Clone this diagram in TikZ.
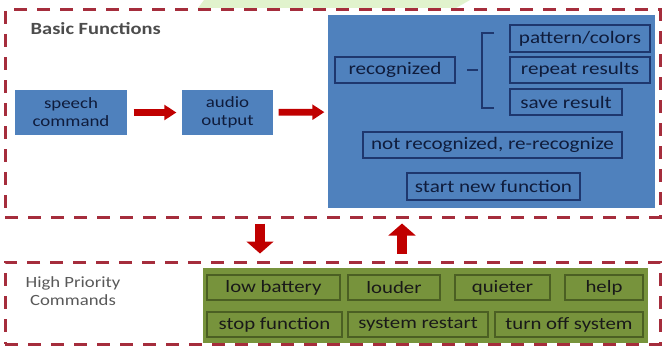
\documentclass[tikz,border=0pt]{standalone}
\usepackage{fontspec}
\setmainfont{Carlito}[FakeStretch=1.2]
\usepackage{xcolor}
\usetikzlibrary{arrows.meta}
\tikzset{>=latex}
\definecolor{framered}{RGB}{165,45,60}
\definecolor{arrowred}{RGB}{192,0,0}
\definecolor{boxblue}{RGB}{79,129,189}
\definecolor{lineblue}{RGB}{30,55,110}
\definecolor{textblue}{RGB}{15,28,60}
\definecolor{boxgreen}{RGB}{119,147,60}
\definecolor{linegreen}{RGB}{75,95,35}
\definecolor{paleleaf}{RGB}{225,243,205}
\tikzset{
  frame/.style={draw=framered, line width=2.25pt, dash pattern=on 9.75pt off 7.5pt, inner sep=0pt},
  bluebox/.style={fill=boxblue, draw=lineblue, line width=0.9pt, text=textblue, inner sep=0pt, font=\fontsize{13.2}{14}\selectfont},
  greenbox/.style={fill=boxgreen, draw=linegreen, line width=0.9pt, text=black!90, inner sep=0pt, font=\fontsize{13}{14}\selectfont},
  redarrow/.style={draw=arrowred, line width=5pt, -{Triangle[width=11pt, length=9pt]}},
  bigarrow/.style={draw=arrowred, line width=7.5pt, -{Triangle[width=20pt, length=9pt]}}
}
\begin{document}
\begin{tikzpicture}[x=0.75pt, y=-0.75pt]
\useasboundingbox (0,0) rectangle (663,346);
\fill[paleleaf] (198,8) -- (204,0) -- (470,0) -- (456,8) -- cycle;
% frames
\node[frame, minimum width=491.25pt, minimum height=155.25pt] (basicframe) at (332.5,113.5) {};
\node[frame, minimum width=491.25pt, minimum height=61.5pt] (highframe) at (332.5,303) {};
\node[anchor=west, text=black!70, font=\bfseries\fontsize{12.8}{14}\selectfont] (basiclbl) at (26,29) {Basic Functions};
\node[align=center, text=black!65, font=\fontsize{11.7}{14}\selectfont] (highlbl) at (73,291) {High Priority\\Commands};
% basic functions
\node[bluebox, draw=none, minimum width=84pt, minimum height=33.75pt, align=center, font=\fontsize{11.8}{13.5}\selectfont] (speech) at (71,112.5) {speech\\command};
\node[bluebox, draw=none, minimum width=68.25pt, minimum height=33.75pt, align=center, font=\fontsize{11.8}{13.5}\selectfont] (audio) at (227.5,112.5) {audio\\output};
\node[bluebox, draw=none, minimum width=245.25pt, minimum height=144.75pt] (basicfn) at (491.5,111.5) {};
\node[bluebox, minimum width=90pt, minimum height=19.5pt] (recog) at (395,70) {recognized};
\node[bluebox, minimum width=105pt, minimum height=20.25pt] (pattern) at (580,38.5) {pattern/colors};
\node[bluebox, minimum width=105pt, minimum height=19.5pt] (repeat) at (580,70) {repeat results};
\node[bluebox, minimum width=84pt, minimum height=19.5pt] (save) at (566,102) {save result};
\node[bluebox, minimum width=194.25pt, minimum height=19.5pt] (notrec) at (492.5,145) {not recognized, re-recognize};
\node[bluebox, minimum width=129.75pt, minimum height=20.25pt] (newfn) at (493.5,186.5) {start new function};
\draw[lineblue, line width=1.1pt] (494,33) -- (482,33) -- (482,108) -- (494,108);
\draw[lineblue, line width=1.1pt] (467,70) -- (478,70);
\draw[redarrow, shorten <=4.5pt, shorten >=3.75pt] (speech) -- (audio);
\draw[redarrow, shorten <=3.75pt, shorten >=2.25pt] (audio) -- (basicfn);
% high priority
\node[greenbox, draw=none, minimum width=333.75pt, minimum height=56.25pt] (priority) at (425.5,305.5) {};
\node[greenbox, minimum width=99.75pt, minimum height=18.75pt] (lowbat) at (273.5,287.5) {low battery};
\node[greenbox, minimum width=69pt, minimum height=18.75pt] (louder) at (394,287.5) {louder};
\node[greenbox, minimum width=71.25pt, minimum height=18.75pt] (quieter) at (502.5,287.5) {quieter};
\node[greenbox, minimum width=58.5pt, minimum height=18.75pt] (help) at (604,287.5) {help};
\node[greenbox, minimum width=101.25pt, minimum height=18.75pt] (stopfn) at (274.5,324.5) {stop function};
\node[greenbox, minimum width=105pt, minimum height=18.75pt] (restart) at (418,324.5) {system restart};
\node[greenbox, minimum width=111pt, minimum height=18.75pt] (turnoff) at (569,324.5) {turn off system};
% between frames
\coordinate (downx) at (260,0);
\coordinate (upx) at (402,0);
\draw[bigarrow, shorten <=3.75pt, shorten >=5.25pt] (basicframe.south -| downx) -- (highframe.north -| downx);
\draw[bigarrow, shorten <=5.25pt, shorten >=3.75pt] (highframe.north -| upx) -- (basicframe.south -| upx);
\end{tikzpicture}
\end{document}
